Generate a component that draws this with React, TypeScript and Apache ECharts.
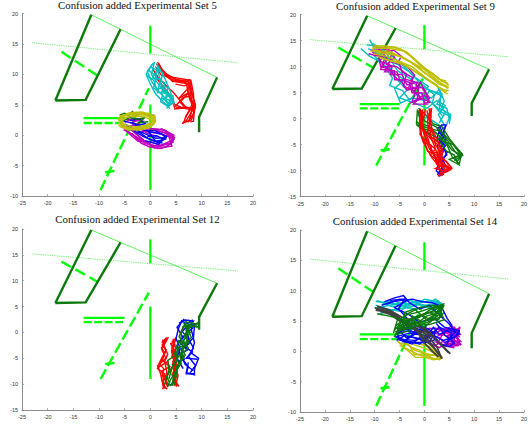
import React, { useEffect, useRef } from "react";
import * as echarts from "echarts";

type Line = number[][];

const titles = [
  "Confusion added Experimental Set 5",
  "Confusion added Experimental Set 9",
  "Confusion added Experimental Set 12",
  "Confusion added Experimental Set 14",
];
const xRange = [-25, 20];
const yMins = [-10, -15, -15, -10];
const yMax = 20;

// Scene shared by all four plots
const wallLeft: Line = [[-18.5, 5.7], [-11.5, 19.8]];
const wallBottom: Line = [[-18.5, 5.7], [-12.6, 5.8], [-5.8, 17.4]];
const wallRight: Line = [[13, 9.5], [9.5, 3], [9.5, 0.5]];
const roofThin: Line = [[-11.5, 19.8], [13, 9.5]];
const dottedTrend: Line = [[-23, 15.2], [17, 11.9]];
const barUpper: Line = [[0, 18], [0, 13.4]];
const barLower: Line = [[0, 5], [0, -9]];
const barHoriz: Line = [[-13, 2.8], [-5, 2.8]];
const dashHoriz: Line = [[-13, 2], [-5, 2]];
const dashUpper: Line = [[-17.3, 13.7], [-10.3, 9.8]];
const dashDiag: Line = [[-9.7, -9], [-0.3, 7.7]];
const crossMark: Line = [[-8.8, -6.1], [-7, -5.9]];

// Set 5
const s5Red: Line[] = [
  [[1.4, 12], [2.5, 10.5], [4, 9.5], [5.5, 9], [7.7, 9.1], [8.2, 6.5], [8.8, 4.6], [8, 2.5], [6.3, 2]],
  [[1.2, 11.7], [2.7, 10], [4, 9.2], [5.8, 8.8], [7.4, 8.9], [8, 6], [8.6, 4.5], [8.4, 2.3], [7.8, 2.2]],
  [[0.5, 10.8], [1.5, 9.5], [3, 8.2], [4.5, 7], [5.5, 6], [7.5, 7], [8.3, 4.8], [7.5, 2.2]],
  [[0.8, 10.5], [2, 8.5], [3.5, 7], [4.8, 5], [6, 4.6], [8, 4.5], [8.6, 3.8], [7.3, 2.1]],
  [[1.6, 11.8], [3, 9.7], [4.8, 8.8], [7, 8.5], [7.7, 5.8], [8.7, 4.7], [7, 2.4], [6.2, 1.9]],
  [[4.6, 4.3], [7, 4.5], [5.5, 6], [7.9, 8.2], [6.2, 8.9], [4.3, 8.8], [2.6, 10.4]],
  [[1.5, 11.5], [3.2, 10], [5, 9.2], [7.6, 8.7], [8, 7], [8.8, 5], [8, 4.2], [5, 4.6]],
  [[1.1, 11.2], [2.2, 9.8], [3.6, 9.6], [6, 9.3], [7.9, 9], [8.4, 6.8], [8.5, 5], [7, 3.2], [6.5, 2.1]],
  [[1, 9.6], [2.6, 7.8], [4, 6.2], [4.7, 4.6], [6.4, 6.2], [7.6, 6.4], [8.1, 5], [6.8, 2.8]],
  [[4.9, 8.4], [6.6, 8.1], [7.4, 8.4], [7.3, 6.8], [5.8, 5.4], [6.6, 4.7], [8.3, 4.3]],
];
const s5Cyan: Line[] = [
  [[0.6, 11.9], [-0.6, 10.4], [0.3, 8.8], [1.6, 7.2], [3, 6], [3.6, 4.5]],
  [[0.8, 12], [0.2, 10], [1.4, 8.6], [2.6, 7.2], [4, 6.2], [3.2, 4.4]],
  [[1.2, 11.8], [2.2, 10.4], [3, 9], [3.8, 7.4], [4.5, 5.5], [3.4, 4.6]],
  [[0.3, 11.6], [-0.8, 10], [0, 8.4], [1, 6.8], [2.6, 5.4], [3.8, 4.4]],
  [[1.6, 11.4], [1, 9.5], [2.8, 8.6], [2.2, 7], [4.4, 6.5], [4.6, 5]],
  [[0.9, 11.3], [2.5, 10.2], [1.8, 8.4], [3.4, 7.8], [3, 6], [4.7, 5.4]],
  [[-0.5, 10.8], [1.2, 9.6], [0.6, 7.8], [2.4, 6.6], [2, 5.5], [3.3, 4.8]],
  [[0.1, 11.2], [1.5, 10.6], [1.9, 9.2], [2.2, 8], [3.2, 6.8], [4.2, 5.8], [3.6, 4.8]],
  [[-0.7, 9.8], [0.7, 9], [1.2, 7.6], [2.8, 7.8], [3.6, 6.4], [2.4, 6], [4, 5]],
  [[1.3, 10.8], [0.4, 9.4], [2, 9.2], [1.4, 7], [3.2, 7.2], [4.5, 6], [4.4, 5.2]],
];
const s5Magenta: Line[] = [
  [[-5.5, 1.6], [-3.5, 0.8], [-1, -1], [1, -2], [2, -2.2], [4, -1.5], [4.5, -0.3], [3, 0.8], [1, 1], [-1, 1]],
  [[-5, 1], [-3, -0.2], [-1, -1.4], [1.2, -1.8], [3.8, -1.3], [4.7, -0.4], [2.5, 0.9], [0, 1.1]],
  [[-4.5, 2.6], [-3, 2.4], [-1.5, 2.3], [-3, 1.6], [-4.5, 1.4], [-2.5, 0.4], [0, 0.8]],
  [[-5.2, 0.9], [-2, -0.6], [0.3, -1.6], [2.5, -2], [4.2, -1.8], [3.6, -0.2], [1, 0.4], [-1, 0.6]],
  [[-4.6, 0.6], [-2.4, -1], [0, -1.1], [2, -1.7], [4.3, -0.8], [3, 0.4], [0.6, 0.9]],
  [[-4.2, 1.2], [-2.8, 0.2], [-1.4, -0.8], [0.8, -2.1], [2.8, -1.6], [4.4, -1.2], [4.6, 0], [2, 1.1]],
  [[-3.6, 0.3], [-1.8, -1.3], [-0.2, -1.9], [1.8, -2.2], [3.2, -1.9], [4.6, -0.7], [3.4, 0.2], [1.4, 0.7]],
  [[-5, 2.1], [-3.4, 2.8], [-2, 2.6], [-3.8, 2], [-2.2, 1.2], [-0.6, 0.3], [1.4, -0.2]],
];
const s5Blue: Line[] = [
  [[-5, 1.8], [-3, 1], [-1, 0.2], [1, -0.5], [3, -0.4], [1.5, -1.2], [-0.5, -0.5], [-3, 1]],
  [[-5.2, 2.3], [-3, 1.9], [-1.2, 0.8], [1, 0.7], [3.2, -0.2], [1.6, -1.5], [-1, -0.9]],
  [[-4, 2.4], [-2.2, 2.7], [-1, 1.9], [-3, 1.5]],
  [[-0.6, -0.2], [1.2, -0.1], [2.8, -0.7], [1, -1], [-0.4, 0.6], [2.2, 0.2], [3.2, -0.5]],
  [[-3.6, 2], [-2, 1.6], [-3, 0.6], [-1.4, -0.2], [0.4, -0.9], [2.4, -1.3]],
];
const s5Green: Line[] = [
  [[-6, 3.3], [-5, 3.6], [-4.2, 3.2], [-3.5, 3.9], [-2.8, 3.3], [-1.5, 3.7], [-0.3, 3.2], [0.8, 3.3]],
  [[-5.6, 2.2], [-4, 2.9], [-2.6, 2.6], [-1, 2.9], [-2.4, 2], [-0.4, 2.2]],
];
const s5Yellow: Line[] = [
  [[-6.2, 2.4], [-5, 3.2], [-3, 3.6], [-0.5, 3.6], [0.9, 3.2], [1, 2.2], [-0.5, 1.4], [-3, 1], [-5, 1.2], [-6.2, 2]],
  [[-6.3, 2.8], [-4.5, 3.4], [-2.5, 3.7], [-0.3, 3.4], [1, 2.6], [0.4, 1.6], [-1.5, 1], [-3.5, 0.9], [-5.5, 1.5], [-6.3, 2.8]],
  [[-5.5, 2.8], [-3.5, 3.1], [-1, 3], [0.5, 2.3], [-1, 1.6], [-3.5, 1.3], [-5.3, 1.9], [-5.5, 2.8]],
  [[-6, 3], [-4, 3.7], [-1.5, 3.8], [0.8, 3], [0.7, 1.8], [-2, 1.1], [-4.5, 0.9], [-6.2, 1.6]],
  [[-6.1, 2], [-4.8, 2.9], [-3, 3.3], [-0.8, 3.3], [0.6, 2.8], [0.2, 1.9], [-1.8, 1.3], [-3.8, 1.1], [-5.8, 1.3]],
  [[-5.9, 3.2], [-3.8, 3.4], [-1.2, 3.5], [0.9, 2.4], [-0.2, 1.2], [-2.6, 0.8], [-5, 1.5], [-6, 2.6]],
];

// Set 9
const s9Cyan: Line[] = [
  [[-11, 15.2], [-9.8, 13], [-8, 11.5], [-6.5, 9], [-4, 7.5], [-6, 5.8], [-4.8, 3], [-2.5, 4], [0, 3.5], [1, 5.5], [3.3, 4.5], [3, 2], [5.3, 0.8], [5, -1]],
  [[-12.8, 13.5], [-11, 12], [-9, 11], [-7, 9.5], [-5, 7], [-3.5, 5.5], [-5, 4], [-2, 3], [0.5, 2], [2.5, 3.5], [4.2, 2.5], [2.8, 0.8], [4, -1.2]],
  [[-11.3, 13.5], [-8.5, 12], [-5.5, 10.5], [-3, 9], [-1, 7], [1, 5.5], [3.5, 4.8], [3, 3], [4.2, 1.2], [3, -0.8]],
  [[-10.5, 14.5], [-7, 12.5], [-4, 10], [-2, 8], [0.8, 6.2], [-0.5, 4.5], [2.2, 2.5], [3.5, 1.2], [5.2, 0.5], [4.5, -1]],
  [[-1.5, 0.7], [1, 0], [3.3, -1.4]],
  [[-9, 12.5], [-6, 11], [-2.5, 9.5], [0.5, 7.5], [2.5, 6.5], [3.5, 4.5], [2.5, 2.8], [4.5, 2], [5, 0]],
  [[-11.6, 14.2], [-9.4, 14], [-7.6, 12.6], [-5.4, 9.2], [-3, 7.8], [-1.6, 6.4], [0.4, 5.8], [2, 4.6], [1.6, 3], [3.6, 0.6]],
  [[-10.2, 12.2], [-8, 10], [-6.4, 7.8], [-7, 6.4], [-4.4, 5.4], [-3, 3.6], [-1, 5], [1.4, 4], [3, 5.6], [4, 3.4], [3.4, 2]],
];
const s9Magenta: Line[] = [
  [[-10.8, 13.2], [-8.5, 13], [-7.5, 11.5], [-8.5, 10], [-7, 9.5], [-6, 8], [-4.5, 7], [-3.5, 5.5], [-1.5, 6], [-1, 4], [0.5, 3.5], [1, 3]],
  [[-10, 14], [-8, 12.5], [-9, 11], [-7, 10.5], [-8, 9], [-5.5, 9], [-5, 7.5], [-3, 7], [-2.5, 5], [-0.5, 5], [0, 3], [1.2, 3.2]],
  [[-11.2, 12.5], [-9.2, 12], [-8.8, 10], [-6.5, 10], [-6.8, 8.5], [-4.5, 8.5], [-3.5, 6.5], [-1.5, 7], [-2, 4.5], [-2.5, 3.2], [0, 4.5], [1, 3.5]],
  [[-9, 13.8], [-6.5, 12.8], [-7, 11], [-5, 10.5], [-4.5, 9], [-2.5, 8], [-2.5, 6], [-0.5, 6], [0.5, 4.5], [1, 3]],
  [[-10.5, 12.8], [-8, 11.5], [-8.8, 9.5], [-6, 9.2], [-6, 7.5], [-3.5, 7.5], [-1, 6.8], [-1.5, 3.5], [-3, 3], [-0.5, 3.8]],
  [[-9.8, 13.4], [-7.4, 13.6], [-6, 11.8], [-7.6, 10.4], [-5.6, 10], [-3.6, 8.6], [-4.2, 6.2], [-2, 5.4], [-0.8, 7], [0.2, 5.2], [1.1, 3.8]],
  [[-8.4, 12.6], [-6.2, 13.2], [-4.6, 12], [-5.4, 10.8], [-3.4, 10], [-2, 8.4], [-3.2, 6], [-0.8, 4.2], [-2.2, 2.8], [0.8, 2.8]],
];
const s9Yellow: Line[] = [
  [[-10.5, 13.6], [-7, 13.5], [-4, 13], [-2, 11.5], [0, 9.8], [2, 8.5], [3.5, 7.2], [4.8, 6.8]],
  [[-10.8, 13], [-7, 13], [-5, 12], [-3, 11], [-0.5, 9.2], [1.5, 7.8], [3, 6.6], [4.6, 6.2]],
  [[-10.2, 12.5], [-7.5, 12], [-5, 11], [-2.5, 10], [-0.5, 8.5], [1, 7.2], [3, 6], [4.5, 5.2]],
  [[-10, 13.8], [-6, 13.8], [-3.5, 12.8], [-1.5, 11], [0.5, 9.4], [2.5, 8], [4, 7], [4.9, 6.4]],
  [[-9.5, 12], [-7, 11.2], [-4.5, 10.5], [-2, 9.2], [0, 8], [2, 6.8], [3.6, 5.4], [4.7, 4.7]],
  [[-10.6, 13.2], [-6.5, 12.6], [-4.2, 11.6], [-1.8, 10.4], [0.2, 8.8], [2.2, 7.4], [3.8, 6.4], [4.8, 5.8]],
  [[-10.4, 14], [-7.8, 14], [-4.8, 13.4], [-2.8, 12], [-0.8, 10.2], [1.2, 8.8], [3, 7.6], [4.4, 7.2]],
  [[-9.8, 12.8], [-7.2, 12.4], [-4.6, 12], [-2.4, 10.8], [-0.2, 9.6], [1.8, 8], [3.4, 6.8], [4.9, 6]],
  [[-8.8, 11.6], [-6, 11], [-3.6, 10.2], [-1.2, 8.6], [0.6, 7.6], [2.6, 6.2], [3.8, 5.6], [4.9, 5.4]],
];
const s9Blue: Line[] = [
  [[2.5, -2], [3.5, -1.2], [4.4, -1.2], [3, -4], [4.2, -5.2], [2.8, -7], [3.8, -9], [2.6, -10.8]],
  [[3.3, -1.5], [2.6, -3.5], [3.6, -5], [4.5, -7], [3, -8], [2.4, -10], [3.4, -11]],
  [[4.2, -1.4], [3.8, -3.4], [2.6, -5.2], [3.2, -6.6], [4.2, -9], [3, -10.6]],
  [[2.6, -1.8], [3.4, -3], [4.4, -4], [3.2, -5.6], [4.6, -6.4], [3.6, -8.2], [3.8, -10.8]],
  [[3.8, -1.6], [3, -2.8], [4.2, -3.4], [2.8, -4.6], [3.8, -6.2], [2.6, -8.6], [3.2, -10.2]],
];
const s9Green: Line[] = [
  [[-1.4, 1.8], [-1.6, -1], [0, -2], [2, -2.5], [4, -4], [5.5, -6], [7.4, -7], [7, -8.8]],
  [[-1.2, 2], [0.5, 0.5], [1.8, -1], [3.5, -1.5], [5, -3.8], [6.5, -5.6], [7.6, -6.8], [5, -7.8], [7.2, -9]],
  [[-0.9, 1.6], [-1, -0.8], [1, -1.5], [2.8, -3.2], [4.6, -5.2], [5.6, -7.4], [7, -8.6]],
  [[-1.6, -1.2], [0.4, -2.6], [2.4, -3.6], [3.8, -4.4], [5.8, -5], [7.5, -7.2], [6, -8]],
  [[-1.3, 1.6], [-0.6, -1.4], [1.4, -2], [3.2, -2.4], [4.8, -4.4], [6.2, -6.4], [7.3, -7.4], [6.4, -8.4]],
  [[-1, 2], [0, -0.4], [2.4, -1.6], [3.8, -2.8], [5.4, -4.6], [6.8, -6], [7.7, -7], [5.6, -7.6]],
  [[-1.5, -0.6], [1.2, -3.4], [3.2, -4.6], [4.4, -6.2], [6, -7], [6.8, -8.8]],
];
const s9Red: Line[] = [
  [[-1, 1.8], [-0.8, -1], [-0.6, -3.5], [0.3, -5.5], [1.5, -7.5], [2.8, -9], [3.6, -11]],
  [[0.2, 1.8], [-0.4, -1], [0.2, -3.8], [1, -5.8], [2.4, -7], [3.8, -8.8], [5.3, -9.8], [2.7, -11]],
  [[1.2, 2], [0.6, -0.5], [1, -3], [2, -5.2], [2.8, -7.4], [4.4, -8.2], [5.5, -9.5], [3.6, -10.5]],
  [[1.4, 1.8], [1.2, -0.6], [1.6, -2.2], [2.6, -4], [3.4, -6], [2.2, -8], [4.2, -9.8], [5.4, -9.2]],
  [[-0.8, 1], [-0.9, -2], [-0.2, -4.6], [1.2, -5], [1.8, -7], [3, -8.2], [4.8, -9.6], [3.2, -10.8]],
  [[0.5, 1.6], [1.1, -1], [0.4, -3], [1.8, -4.4], [3, -5.2], [2.6, -6.8], [3.8, -7.6], [5, -9]],
  [[-0.6, 1.4], [-0.2, -2], [0.8, -4], [1.4, -6.4], [3.2, -6.6], [3.6, -9], [2.2, -9.6], [4.6, -10.2]],
  [[-0.9, 1.9], [-0.5, 0], [-0.9, -3], [0, -4], [0.6, -6.2], [2, -6.8], [2.6, -8.8], [4, -9.2], [5.6, -9.6]],
  [[0.9, 2], [1.3, 0.4], [0.9, -1.6], [1.8, -3], [2.2, -5], [3.6, -7], [2.4, -8.6], [3.4, -10], [2.9, -11.2]],
  [[-0.4, 1.8], [-0.6, -1.4], [-0.2, -2.6], [0.9, -4.8], [2.2, -5.8], [1.2, -7], [3.2, -8.4], [4, -10]],
  [[1.5, 2], [0.9, 0.4], [1.4, -1.4], [1.2, -3.4], [2.8, -4.6], [3.8, -6.2], [3, -8], [5, -9.4]],
];

// Set 12
const s12Red: Line[] = [
  [[2.2, -2], [3.2, -1], [2.2, -3.2], [3, -5], [1.4, -6.5], [2, -8], [2.6, -10.8]],
  [[3.5, -0.9], [2.6, -2.6], [3.4, -4.2], [2.8, -5.6], [3.2, -7.5], [3, -9.5], [2.4, -11]],
  [[2.4, -1.4], [3, -3.5], [2.3, -5.4], [3.8, -6.6], [2.2, -7.5], [3.4, -10.6]],
  [[1.5, -6.8], [3.4, -5.6], [3.9, -7.4], [2.8, -8.6], [3.6, -10.4]],
  [[4, -2.4], [5, -1], [4.2, -3], [5, -5], [4.4, -6.8], [5, -8.5], [4.8, -10.4]],
  [[4.2, -1.6], [5, -3], [4.2, -4.6], [5.2, -6.4], [4.2, -8.2], [5.4, -10.2]],
  [[5, -1.2], [4.4, -2.8], [5, -4.2], [4.4, -5.6], [5.2, -7.6], [4.4, -9.4], [5.6, -10.4]],
  [[4.6, -1.6], [4.2, -4], [4.8, -6], [5.4, -8.4], [5, -10]],
  [[3, -1.3], [2.3, -2.4], [3.1, -3.4], [2.4, -4.6], [1.7, -6], [2.6, -7], [2.2, -9], [2.9, -10.9]],
  [[2.1, -2.8], [2.8, -4], [2, -5.8], [1.4, -7], [2.8, -8], [2.4, -10], [3.3, -11]],
  [[4.4, -1.2], [4.8, -2.4], [4.1, -3.6], [4.9, -4.8], [4.3, -6.2], [5.3, -7], [4.6, -8.8], [5.2, -10.5]],
  [[3.9, -2], [4.6, -3.4], [5.1, -5.6], [4.5, -7.6], [4.9, -9.2], [4.2, -10.2]],
];
const s12Blue: Line[] = [
  [[6.2, 2.4], [5.5, 0.8], [5, -1.2], [5.8, -3], [5.2, -5], [6.4, -7]],
  [[6.6, 2.6], [5.2, 1], [6.4, -1], [5.2, -2.5], [6, -4.8], [7.4, -6.6], [7, -8], [8.6, -8]],
  [[8.2, 2.5], [8, 0.5], [8.6, -2], [8, -4], [9.4, -5], [8.6, -7], [8.6, -8.2], [7, -7.8], [7.4, -5.8]],
  [[7.4, 2.4], [8.6, 1.4], [8.4, -1], [6.8, -2.8], [8.2, -3.8], [7, -5], [9.2, -5.2]],
  [[5.6, 1.8], [6.8, 2.4], [8.4, 2.2], [7, 0.4], [7.8, -2], [6, -3.2], [6.6, -5.2], [5.4, -5.6]],
  [[6, 2.2], [7.6, 1.6], [6.2, 0.2], [7.4, -1.2], [8.4, -3], [7.4, -4.6], [8.8, -6.4], [7.6, -8]],
  [[8.4, 1], [6.8, -0.4], [5.6, -1.8], [7.2, -3.4], [5.8, -4.2], [6.8, -6.2], [8.4, -7.4]],
];
const s12Green: Line[] = [
  [[9.6, 1.5], [7, 2], [6, 0], [6, -2], [5, -4], [5.6, -6.5], [4, -9], [3.4, -10.4]],
  [[6.5, 1.8], [7.8, 0], [6.4, -1.6], [7.4, -3], [5.8, -4.4], [6, -6], [4.6, -8], [4.4, -10.2], [3.2, -10]],
  [[9.2, 1], [6.8, 1.5], [8, -1], [6.2, -3], [6.8, -4.4], [5, -6.8], [5.2, -8.4], [3.8, -10.4]],
  [[6.2, 1], [8, 1.6], [6.6, -0.6], [7.6, -2], [5.4, -3], [5.2, -5.4], [4.2, -7], [3.6, -9]],
  [[9.4, 2], [7.6, 0.8], [6.2, -2.2], [5.5, -1.6], [4.6, -4.6], [3.4, -5.4], [3.6, -7.4], [2.8, -10]],
  [[9.6, 0.8], [8.2, 1.9], [7, 0.6], [7.2, -1.4], [6, -3.4], [6.4, -5], [5.4, -6.2], [4.4, -9], [4.8, -10.2]],
  [[7, 2.2], [6.2, 0.6], [5.6, -0.8], [6.8, -2.6], [5.4, -4.8], [4.6, -6], [3.2, -8.6], [3.8, -9.8]],
];

// Set 14
const s14Cyan: Line[] = [
  [[-9.8, 8.2], [-7, 8], [-5, 7.6], [-3, 8.4], [-1, 8], [1.5, 8.4], [3, 7.6], [1.5, 6.8]],
  [[-9.5, 7.2], [-7, 7.6], [-4.5, 8], [-2, 7.6], [0, 8.6], [2.6, 8.2], [3.8, 7.2]],
  [[-9, 6.2], [-6.5, 6.8], [-4, 7.2], [-1.5, 7], [1, 7.4], [3.2, 7], [2, 6]],
  [[-9.8, 7.6], [-7.5, 7], [-5, 6.6], [-2.5, 7.8], [0.5, 7.6], [3.4, 8]],
  [[-9.6, 8.4], [-6.6, 7.4], [-3.6, 7.6], [-1.2, 8.4], [1, 8], [2.2, 8.6], [3.9, 7.6]],
  [[-9.2, 6.8], [-7, 6.4], [-4.6, 7.4], [-2.2, 8.2], [-0.4, 7.4], [2, 7.8], [3.6, 6.8]],
  [[-8.2, 8.2], [-5.6, 8.2], [-3.4, 7.2], [-0.8, 7.8], [1.6, 7], [2.8, 8.4]],
];
const s14Yellow: Line[] = [
  [[-5.5, 1.8], [-4, 0.6], [-2.5, 0], [-1, -0.6], [1, -1], [3, -1.4], [3.6, -1]],
  [[-5.2, 1.4], [-3, 1], [-2, -0.6], [0, -0.4], [2, -1.3], [3.4, -0.8], [1.5, 0.4]],
  [[-4.5, 1.8], [-2.5, 0.6], [-1, 0.2], [0.5, -0.6], [2.5, -0.6], [1, 0.8], [-1, 1.2]],
  [[-5, 1], [-3.4, 0.2], [-1.8, -1], [0.2, -1], [1.8, -1.4], [3.2, -1.2], [2, 0]],
  [[-3.8, 1.4], [-2, 0.2], [-0.4, -0.2], [1.4, -0.6], [3, -0.8], [0.4, 0.4], [-2.4, 1.2]],
];
const s14Magenta: Line[] = [
  [[-1, 3], [1, 3.8], [3, 3.6], [5.5, 3], [7.2, 4], [6, 2.8], [7.3, 1.6], [5, 1.6], [3, 0.6], [1, 1.4], [-1, 2]],
  [[0, 3.4], [2, 3], [4.4, 3.8], [6, 3.6], [7, 2.4], [5, 2.2], [7.2, 1.2], [4.2, 1], [2, 1.6]],
  [[0.8, 2.4], [2.6, 3.8], [5, 2.8], [7, 3.6], [5.6, 1.4], [7, 1], [5, 0.8], [3, 2.2], [1, 2.8]],
  [[1.5, 3.2], [3.5, 2.6], [6, 4], [7.2, 2.8], [4.6, 2.6], [6.4, 1], [3.6, 1.6], [1.8, 0.8]],
  [[2, 3.9], [4, 3.2], [5.4, 4.2], [7.1, 3.2], [5.2, 3.4], [6.8, 1.8], [4.8, 1.2], [6, 0.6], [3.4, 1]],
  [[0.2, 2.6], [2.4, 2.4], [4.6, 3.4], [6.4, 2.4], [7.3, 1], [5.8, 2], [3.6, 2.8], [2.6, 1.2]],
];
const s14Blue: Line[] = [
  [[-8, 8.2], [-6, 8.8], [-4.2, 9.2], [-3, 8], [-1, 7], [1, 7.6], [3, 6], [5, 4.5], [6.2, 3.2], [5, 2]],
  [[-7.5, 7.8], [-5, 8.6], [-3.5, 8.4], [-6, 7.2], [-3, 6], [-1, 4.8], [2, 5.4], [4, 4], [7, 3.4], [6.6, 2.6], [4, 1.4]],
  [[-7, 8.4], [-4, 8.6], [-5.2, 7], [-3, 5], [-5.5, 3], [-5, 2], [-2, 1.8], [1, 2.4], [3, 4], [5.5, 3], [4.4, 1]],
  [[-5.8, 3.2], [-3, 4], [0, 3.4], [2.5, 2], [0, 1.4], [-3, 1.6], [-5.8, 2.4], [-3, 3], [0, 2.6], [2, 3.2]],
  [[-5.5, 2], [-2.5, 1.2], [-0.5, 2.6], [-3.5, 3.6], [-1, 4.2], [1, 3], [3.8, 1.8], [6, 2.4], [7, 3.2]],
  [[-5, 3.6], [-1.5, 3.8], [-2.8, 2.4], [0, 1.8], [1.8, 4], [3, 2.8], [5, 3.6], [7.2, 2.8]],
  [[-8.6, 7.6], [-6.4, 8.2], [-4.6, 8.4], [-2.4, 8.6], [-0.6, 8.2], [1.6, 8], [3.4, 7.4], [4.6, 5.4], [5.6, 4.2]],
  [[-5.6, 1.8], [-4, 2.6], [-1.6, 2.2], [0.8, 1.4], [2.2, 3], [0, 4], [-2.2, 3.2], [-4.4, 3.4], [-5.6, 2.8]],
  [[-4.4, 1.8], [-1, 1.2], [1.4, 2.6], [3.2, 1.2], [5, 0.8], [6, 1.4], [4.2, 2.6], [2.4, 4.6]],
  [[-5.4, 3.8], [-3.6, 2.2], [-0.8, 3.2], [0.6, 4.4], [-2, 2.8], [-4.2, 1.6], [-1.4, 1.4], [1.2, 1.8]],
];
const s14Grey: Line[] = [
  [[-10, 7.2], [-7.5, 6.5], [-5, 5], [-2, 4], [0, 2], [2, 0.5], [3.6, -1.2]],
  [[-9.8, 6.8], [-7, 6.4], [-5, 5.4], [-3, 4.2], [0.5, 2.8], [2.6, 0.6], [3.4, -1.1]],
  [[-9.5, 7.4], [-7, 6.8], [-4.5, 5.6], [-2, 5], [1, 3.2], [3.4, 1], [5.2, -0.4]],
  [[-8.8, 6.6], [-6.5, 6], [-4.4, 4.8], [-1.5, 3.4], [0, 1.4], [1.6, 0], [2.8, -0.9]],
  [[-9, 7], [-6.5, 6.4], [-4.6, 5.2], [-1, 4], [2, 2.2], [4, 0.6], [4.8, -0.2]],
  [[-9.7, 7], [-7.2, 6.6], [-5.4, 5.8], [-3.6, 4.4], [0.2, 2.4], [1.4, 1.2], [3, -0.6]],
];
const s14Green: Line[] = [
  [[-6.2, 3], [-5.5, 5], [-3.5, 6], [-1, 6.5], [1.5, 7.2], [3.8, 7.8], [2, 6], [0, 5], [-2.5, 4.4], [-5, 3.6]],
  [[-6, 2.4], [-5, 4.2], [-2.5, 5.4], [0, 6], [2.5, 7], [3.7, 7.4], [3, 5.6], [0, 4.6], [-3, 3.8], [-5.8, 3.2]],
  [[-9.5, 6.2], [-7, 5.8], [-5, 5.4], [-3.5, 5], [-1, 5.6], [1, 6.8], [3.5, 7.6]],
  [[-5.5, 3], [-4, 5], [-1.5, 5.8], [0.8, 6.4], [3.2, 6.6], [4, 5.2], [1, 4.4], [-2, 4.6], [-5, 4]],
  [[-6, 2.6], [-4.2, 4.2], [-4, 6.4], [-2, 7], [0.4, 5.2], [2.8, 5.2], [3.9, 6.4]],
  [[-5.6, 2.8], [-3, 3.4], [-2.4, 5.8], [-0.4, 4.8], [1.6, 5.6], [3.6, 7], [2, 7.6], [-1, 7.2], [-3.8, 6]],
  [[-6.1, 3.4], [-4.6, 4.8], [-3, 4.6], [-1.2, 4.8], [0.4, 5.8], [2.2, 6.2], [3.4, 7.2]],
  [[-5.8, 4.2], [-3.8, 5.4], [-2, 5], [0, 4], [1.4, 5], [3, 6.2], [4, 7.7]],
  [[-6, 3.8], [-3.4, 3.8], [-1.4, 4.2], [-3, 5.2], [-0.6, 6], [1.2, 5.2], [2.6, 5.8], [1, 6.4]],
];

const RED = "#ff0000";
const CYAN = "#00bfbf";
const MAGENTA = "#bf00bf";
const YELLOW = "#bfbf00";
const BLUE = "#0000ff";
const GREEN = "#0a780a";
const GREY = "#404040";
const LIME = "#00ff00";
const DARK = "#0a7a0a";

const panelData: [Line[], string][][] = [
  [[s5Red, RED], [s5Cyan, CYAN], [s5Magenta, MAGENTA], [s5Blue, BLUE], [s5Green, GREEN], [s5Yellow, YELLOW]],
  [[s9Cyan, CYAN], [s9Magenta, MAGENTA], [s9Yellow, YELLOW], [s9Blue, BLUE], [s9Green, GREEN], [s9Red, RED]],
  [[s12Red, RED], [s12Blue, BLUE], [s12Green, GREEN]],
  [[s14Cyan, CYAN], [s14Yellow, YELLOW], [s14Magenta, MAGENTA], [s14Blue, BLUE], [s14Grey, GREY], [s14Green, GREEN]],
];

const grids = [
  { left: 22, top: 13.5, width: 231, height: 182.5 },
  { left: 300, top: 14.7, width: 230.5, height: 182 },
  { left: 22, top: 229, width: 231, height: 181 },
  { left: 300, top: 230, width: 230.5, height: 182 },
];
const titlePos = [
  { left: 137.5, top: -0.5 },
  { left: 415.5, top: 0 },
  { left: 137.5, top: 213.5 },
  { left: 415, top: 215 },
];

const sceneStyled: [Line, string, number, any][] = [
  [roofThin, "#33ee33", 0.8, "solid"],
  [dottedTrend, "#55ee55", 0.9, "dotted"],
  [barUpper, LIME, 2.3, "solid"],
  [barLower, LIME, 2.3, "solid"],
  [barHoriz, LIME, 2.3, "solid"],
  [dashHoriz, LIME, 2.3, [8, 2.5]],
  [dashUpper, LIME, 2.4, [11, 5]],
  [dashDiag, LIME, 2.4, [11, 4]],
  [crossMark, LIME, 2.6, "solid"],
  [wallLeft, DARK, 2.4, "solid"],
  [wallBottom, DARK, 2.4, "solid"],
  [wallRight, DARK, 2.4, "solid"],
];

function lineSeries(points: Line, color: string, width: number, type: any, idx: number) {
  return {
    type: "line",
    xAxisIndex: idx,
    yAxisIndex: idx,
    data: points,
    symbol: "none",
    silent: true,
    clip: false,
    lineStyle: { color, width, type, cap: "butt", join: "miter" },
  };
}

function buildOption() {
  const axisText = { color: "#333", fontSize: 5.5, fontFamily: "Liberation Sans", margin: 4 };
  const axisLine = { show: true, onZero: false, lineStyle: { color: "#8c8c8c", width: 1 } };
  const axisTick = { show: true, inside: true, length: 2, lineStyle: { color: "#8c8c8c", width: 0.7 } };
  const series: any[] = [];
  grids.forEach((_, i) => {
    sceneStyled.forEach(([pts, c, w, t]) => series.push(lineSeries(pts, c, w, t, i)));
    panelData[i].forEach(([lines, c]) =>
      lines.forEach((l) => series.push(lineSeries(l, c, c === GREY ? 1.8 : 1.4, "solid", i))),
    );
  });
  return {
    animation: false,
    backgroundColor: "#ffffff",
    title: titles.map((text, i) => ({
      text,
      left: titlePos[i].left,
      top: titlePos[i].top,
      textAlign: "center",
      padding: 0,
      textStyle: { fontFamily: "Liberation Serif", fontWeight: "normal", fontSize: 10.8, color: "#111" },
    })),
    grid: grids.map((g) => ({ ...g, containLabel: false })),
    xAxis: grids.map((_, i) => ({
      type: "value",
      gridIndex: i,
      min: xRange[0],
      max: xRange[1],
      interval: 5,
      splitLine: { show: false },
      axisLine,
      axisTick,
      axisLabel: axisText,
    })),
    yAxis: grids.map((_, i) => ({
      type: "value",
      gridIndex: i,
      min: yMins[i],
      max: yMax,
      interval: 5,
      splitLine: { show: false },
      axisLine,
      axisTick,
      axisLabel: axisText,
    })),
    series,
  };
}

export default function App() {
  const ref = useRef<HTMLDivElement>(null);
  useEffect(() => {
    const chart = echarts.init(ref.current!, undefined, { renderer: "svg" });
    chart.setOption(buildOption() as any);
    return () => chart.dispose();
  }, []);
  return <div ref={ref} style={{ position: "fixed", left: 0, top: 0, width: 530, height: 430 }} />;
}
